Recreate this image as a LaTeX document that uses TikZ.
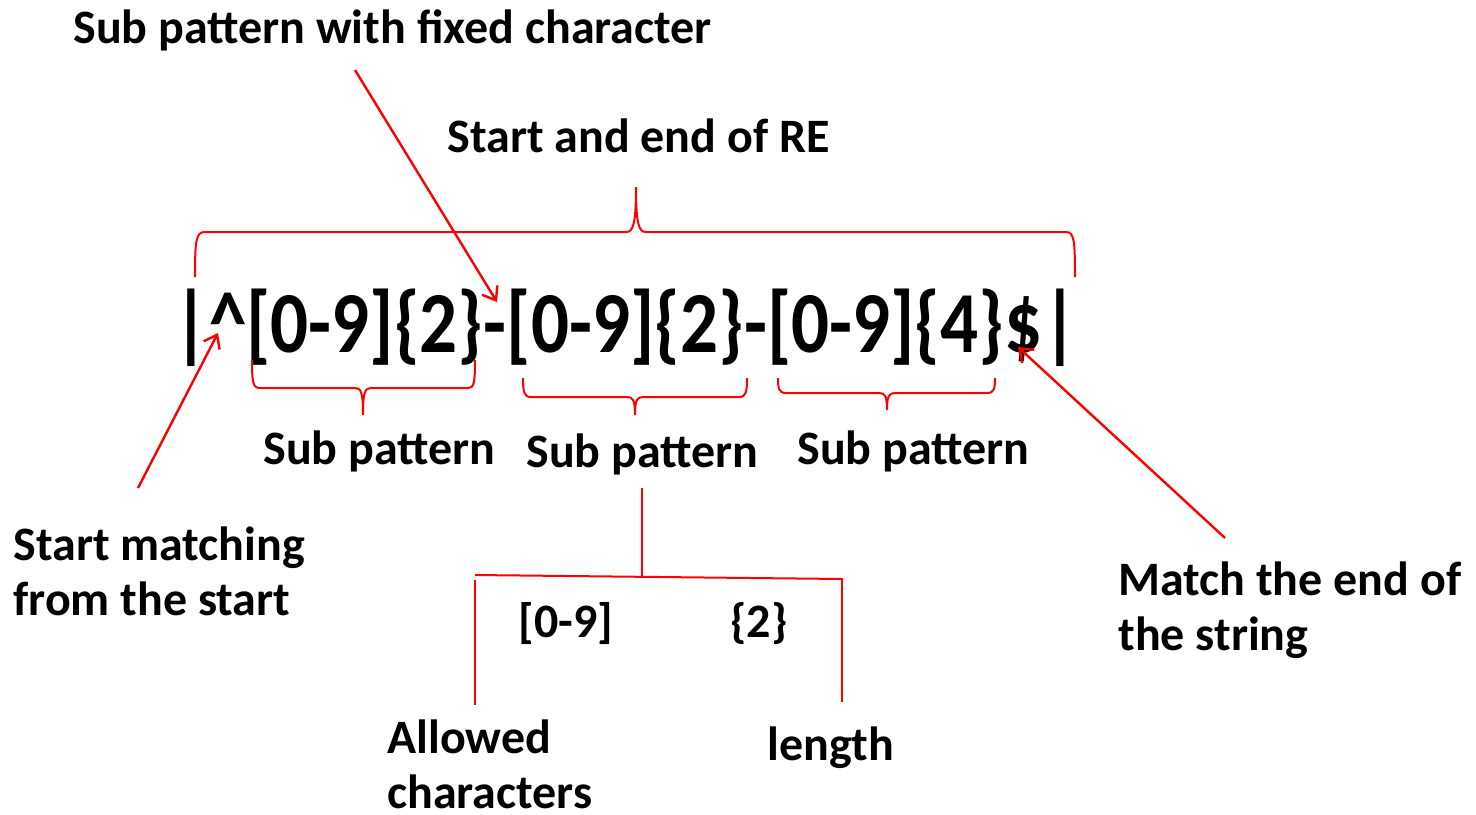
\documentclass[tikz,border=0pt]{standalone}
\usepackage{fontspec}
\setmainfont{Carlito}
\usetikzlibrary{arrows.meta}
\begin{document}
\begin{tikzpicture}[x=0.5pt,y=-0.5pt,
  lbl/.style={font=\fontsize{24}{27.5}\selectfont\bfseries, inner sep=0pt, anchor=base west, align=left},
  rx/.style={font=\fontsize{37.5}{40}\selectfont\bfseries, inner sep=0pt, anchor=base west},
  redline/.style={draw=red, line width=1pt},
  arr/.style={draw=red, line width=1.2pt, -{Straight Barb[length=6pt,width=9pt]}}]
\useasboundingbox (0,0) rectangle (1476,814);
% texts
\node[lbl] (subfixed) at (73,43) {Sub pattern with fixed character};
\node[lbl] (startend) at (447,152) {Start and end of RE};
\node[rx] (regex) at (173,352) {\scalebox{1}[1.16]{|\textasciicircum[0-9]\{2\}-[0-9]\{2\}-[0-9]\{4\}\char"24|}};
\node[lbl] (sp1) at (263,464) {Sub pattern};
\node[lbl] (sp2) at (526,467) {Sub pattern};
\node[lbl] (sp3) at (797,464) {Sub pattern};
\node[lbl] (startmatch) at (13,615) {Start matching\\from the start};
\node[lbl] (matchend) at (1118,650) {Match the end of\\the string};
\node[lbl] (range) at (518,637) {[0-9]};
\node[lbl] (len) at (730,637) {\{2\}};
\node[lbl] (allowed) at (387,808) {Allowed\\characters};
\node[lbl] (length) at (767,760) {length};
% coordinates
\coordinate (a1s) at (355,70);  \coordinate (a1e) at (497,302);
\coordinate (a2s) at (138,488); \coordinate (a2e) at (218,333);
\coordinate (a3s) at (1225,538); \coordinate (a3e) at (1018,347);
% arrows
\draw[arr] (a1s) -- (a1e);
\draw[arr] (a2s) -- (a2e);
\draw[arr] (a3s) -- (a3e);
% top brace
\draw[redline] (195,277) .. controls (195,240) and (196,232) .. (205,232) -- (626,232)
  .. controls (633,232) and (636,225) .. (636,187)
  .. controls (636,225) and (639,232) .. (646,232) -- (1066,232)
  .. controls (1074,232) and (1075,240) .. (1075,277);
% bottom braces
\draw[redline] (252,360) .. controls (252,383) and (253,388) .. (260,388) -- (355,388)
  .. controls (361,388) and (363,392) .. (363,415)
  .. controls (363,392) and (365,388) .. (371,388) -- (468,388)
  .. controls (474,388) and (475,383) .. (475,360);
\draw[redline] (523,378) .. controls (523,392) and (524,397) .. (531,397) -- (627,397)
  .. controls (633,397) and (635,400) .. (635,415)
  .. controls (635,400) and (637,397) .. (643,397) -- (739,397)
  .. controls (746,397) and (747,392) .. (747,378);
\draw[redline] (778,378) .. controls (778,389) and (779,393) .. (786,393) -- (879,393)
  .. controls (885,393) and (887,396) .. (887,410)
  .. controls (887,396) and (889,393) .. (895,393) -- (987,393)
  .. controls (994,393) and (995,389) .. (995,378);
% tree
\coordinate (t0) at (642,488);
\coordinate (t1) at (642,576);
\coordinate (tl) at (475,575);
\coordinate (tr) at (843,579);
\coordinate (tlb) at (475,705);
\coordinate (trb) at (842,702);
\draw[redline] (t0) -- (t1);
\draw[redline] (tl) -- (tr);
\draw[redline] (475,580) -- (tlb);
\draw[redline] (842,578) -- (trb);
\end{tikzpicture}
\end{document}
